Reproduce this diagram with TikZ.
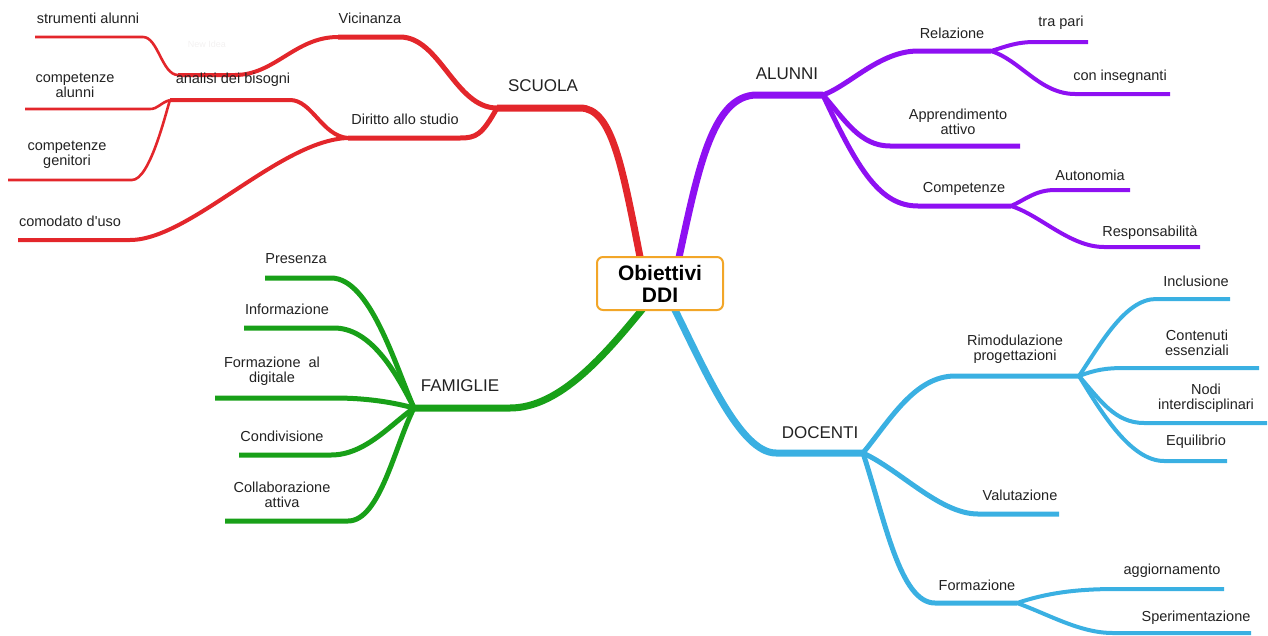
\documentclass[tikz,border=0pt]{standalone}
\usepackage{fontspec}
\setmainfont{Liberation Sans}
\newfontfamily\plainsans{Liberation Sans}[Ligatures=TeXOff]
\definecolor{cred}{HTML}{E3262B}
\definecolor{cpur}{HTML}{8E10F2}
\definecolor{cgrn}{HTML}{18A018}
\definecolor{cblu}{HTML}{3AB0E2}
\definecolor{cbox}{HTML}{F2A628}
\definecolor{ctxt}{HTML}{222222}
\tikzset{
  w0/.style={line width=7pt},
  w1/.style={line width=5pt},
  w2/.style={line width=4pt},
  w3/.style={line width=2.6pt},
  lab/.style={text=ctxt,font=\fontsize{14.5}{15}\selectfont,align=center,inner sep=0pt},
  big/.style={text=ctxt,font=\fontsize{17}{18}\selectfont,inner sep=0pt},
}
\begin{document}
\begin{tikzpicture}[x=1pt,y=-1pt]
\useasboundingbox (0,0) rectangle (1268,635);
% ---------- coordinates ----------
\coordinate (rS) at (641,262);
\coordinate (rJ) at (497,108);
\coordinate (rV) at (338,37);
\coordinate (rN) at (178,75);
\coordinate (rStr) at (35,37);
\coordinate (rD) at (348,138);
\coordinate (rA) at (170,100);
\coordinate (rCA) at (25,109);
\coordinate (rCG) at (8,180);
\coordinate (rCo) at (18,240);

\coordinate (pS) at (678,262);
\coordinate (pJ) at (823,95);
\coordinate (pR) at (991,51);
\coordinate (pTP) at (1088,42);
\coordinate (pCI) at (1170,94);
\coordinate (pAp) at (1020,146);
\coordinate (pC) at (1011,206);
\coordinate (pAu) at (1130,190);
\coordinate (pRe) at (1200,247);

\coordinate (gS) at (645,306);
\coordinate (gJ) at (414,408);
\coordinate (gP) at (265,278);
\coordinate (gI) at (244,328);
\coordinate (gF) at (215,398);
\coordinate (gC) at (239,455);
\coordinate (gCo) at (225,521);

\coordinate (bS) at (673,306);
\coordinate (bJ) at (863,453);
\coordinate (bR) at (1079,376);
\coordinate (bIn) at (1230,299);
\coordinate (bCo) at (1259,368);
\coordinate (bNo) at (1267,423);
\coordinate (bEq) at (1227,461);
\coordinate (bVa) at (1059,514);
\coordinate (bF) at (1017,603);
\coordinate (bAg) at (1224,589);
\coordinate (bSp) at (1251,633);

% ---------- red: SCUOLA ----------
\begin{scope}[draw=cred]
\draw[w0] (rS) .. controls (622,165) and (612,108) .. (580,108) -- (rJ);
\draw[w1] (rJ) .. controls (455,108) and (440,37) .. (400,37) -- (rV);
\draw[w2] (rV) .. controls (295,37) and (275,75) .. (235,75) -- (rN);
\draw[w3] (rN) .. controls (162,75) and (158,37) .. (143,37) -- (rStr);
\draw[w1] (rJ) .. controls (482,135) and (476,138) .. (460,138) -- (rD);
\draw[w2] (rD) .. controls (322,136) and (312,100) .. (290,100) -- (rA);
\draw[w3] (rA) .. controls (160,103) and (158,109) .. (150,109) -- (rCA);
\draw[w3] (rA) .. controls (166,112) and (150,180) .. (132,180) -- (rCG);
\draw[w2] (rD) .. controls (280,140) and (190,240) .. (130,240) -- (rCo);
\end{scope}
% ---------- purple: ALUNNI ----------
\begin{scope}[draw=cpur]
\draw[w0] (pS) .. controls (698,170) and (712,95) .. (757,95) -- (pJ);
\draw[w1] (pJ) .. controls (850,85) and (880,51) .. (918,51) -- (pR);
\draw[w2] (pR) .. controls (1005,47) and (1015,42) .. (1035,42) -- (pTP);
\draw[w2] (pR) .. controls (1020,60) and (1040,94) .. (1075,94) -- (pCI);
\draw[w1] (pJ) .. controls (845,120) and (860,146) .. (890,146) -- (pAp);
\draw[w1] (pJ) .. controls (858,170) and (880,206) .. (918,206) -- (pC);
\draw[w2] (pC) .. controls (1025,200) and (1035,190) .. (1055,190) -- (pAu);
\draw[w2] (pC) .. controls (1040,215) and (1070,247) .. (1104,247) -- (pRe);
\end{scope}
% ---------- green: FAMIGLIE ----------
\begin{scope}[draw=cgrn]
\draw[w0] (gS) .. controls (605,355) and (560,408) .. (510,408) -- (gJ);
\draw[w1] (gJ) .. controls (395,365) and (370,278) .. (331,278) -- (gP);
\draw[w1] (gJ) .. controls (395,370) and (370,328) .. (334,328) -- (gI);
\draw[w1] (gJ) .. controls (395,403) and (370,398) .. (334,398) -- (gF);
\draw[w1] (gJ) .. controls (390,425) and (365,455) .. (331,455) -- (gC);
\draw[w1] (gJ) .. controls (395,445) and (380,521) .. (348,521) -- (gCo);
\end{scope}
% ---------- blue: DOCENTI ----------
\begin{scope}[draw=cblu]
\draw[w0] (bS) .. controls (705,370) and (740,453) .. (776,453) -- (bJ);
\draw[w1] (bJ) .. controls (890,420) and (915,376) .. (955,376) -- (bR);
\draw[w2] (bR) .. controls (1100,345) and (1125,299) .. (1156,299) -- (bIn);
\draw[w2] (bR) .. controls (1095,370) and (1105,368) .. (1125,368) -- (bCo);
\draw[w2] (bR) .. controls (1100,400) and (1115,423) .. (1144,423) -- (bNo);
\draw[w2] (bR) .. controls (1100,410) and (1130,461) .. (1164,461) -- (bEq);
\draw[w1] (bJ) .. controls (900,470) and (940,514) .. (978,514) -- (bVa);
\draw[w1] (bJ) .. controls (885,520) and (900,603) .. (935,603) -- (bF);
\draw[w2] (bF) .. controls (1050,592) and (1080,589) .. (1117,589) -- (bAg);
\draw[w2] (bF) .. controls (1050,615) and (1080,633) .. (1113,633) -- (bSp);
\end{scope}

% ---------- central node ----------
\node[draw=cbox,line width=2pt,fill=white,rounded corners=6pt,minimum width=126pt,minimum height=53pt,
  align=center,inner sep=0pt,font=\fontsize{21}{22}\selectfont\bfseries] (root) at (660,283.5) {Obiettivi\\DDI};

% ---------- labels ----------
\node[big] (scuola) at (543,86) {SCUOLA};
\node[lab] (vic) at (370,18) {Vicinanza};
\node[lab,text=red!6!gray!10,font=\fontsize{9}{10}\selectfont] (newidea) at (207,44) {New Idea};
\node[lab] (str) at (88,18) {strumenti alunni};
\node[lab] (ana) at (233,80) {analisi dei bisogni};
\node[lab] (dir) at (405,119) {Diritto allo studio};
\node[lab] (ca) at (75,85) {competenze\\alunni};
\node[lab] (cg) at (67,155) {competenze\\genitori};
\node[lab] (com) at (70,221) {\plainsans comodato d'uso};

\node[big] (alunni) at (787,74) {ALUNNI};
\node[lab] (rel) at (952,33) {Relazione};
\node[lab] (tra) at (1061,23) {tra pari};
\node[lab] (coni) at (1120,77) {con insegnanti};
\node[lab] (app) at (958,122) {Apprendimento\\attivo};
\node[lab] (comp) at (964,189) {Competenze};
\node[lab] (aut) at (1090,175) {Autonomia};
\node[lab] (resp) at (1150,233) {Responsabilità};

\node[big] (fam) at (460,386) {FAMIGLIE};
\node[lab] (pres) at (296,259) {Presenza};
\node[lab] (inf) at (287,309) {Informazione};
\node[lab] (form) at (272,371) {Formazione~~al\\digitale};
\node[lab] (cond) at (282,436) {Condivisione};
\node[lab] (coll) at (282,495) {Collaborazione\\attiva};

\node[big] (doc) at (820,433) {DOCENTI};
\node[lab] (rim) at (1015,349) {Rimodulazione\\progettazioni};
\node[lab] (incl) at (1196,281) {Inclusione};
\node[lab] (cont) at (1197,343) {Contenuti\\essenziali};
\node[lab] (nodi) at (1206,398) {Nodi\\interdisciplinari};
\node[lab] (equi) at (1196,442) {Equilibrio};
\node[lab] (val) at (1020,495) {Valutazione};
\node[lab] (formd) at (977,585) {Formazione};
\node[lab] (agg) at (1172,571) {aggiornamento};
\node[lab] (sper) at (1196,618) {Sperimentazione};
\end{tikzpicture}
\end{document}
